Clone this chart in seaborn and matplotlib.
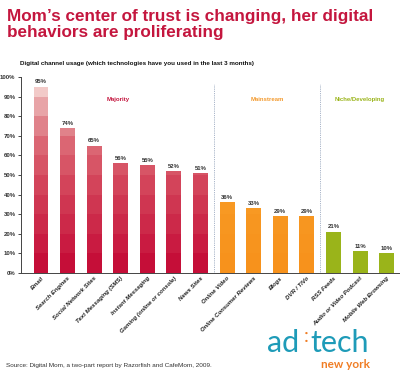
import matplotlib
matplotlib.use("Agg")
import matplotlib.pyplot as plt
import seaborn as sns

categories = ["Email", "Search Engines", "Social Network Sites", "Text Messaging (SMS)",
              "Instant Messaging", "Gaming (online or console)", "News Sites",
              "Online Video", "Online Consumer Reviews", "Blogs", "DVR / TiVo",
              "RSS Feeds", "Audio or Video Podcast", "Mobile Web Browsing"]
values = [95, 74, 65, 56, 55, 52, 51, 36, 33, 29, 29, 21, 11, 10]
groups = ["Majority"] * 7 + ["Mainstream"] * 4 + ["Niche/Developing"] * 3
group_labels = ["Majority", "Mainstream", "Niche/Developing"]
yticks = [0, 10, 20, 30, 40, 50, 60, 70, 80, 90, 100]

band_colors = {
    "Majority": ["#C50E38", "#C91B41", "#CC2949", "#CF3651", "#D3445A", "#D75566",
                 "#DB6673", "#E0828A", "#E8A4A7", "#F2CAC8"],
    "Mainstream": ["#F7921C", "#F7941E", "#F79620", "#F89923", "#F89B27", "#F89E2C",
                   "#F9A233", "#F9A63A", "#F9AA42", "#FAAE4A"],
    "Niche/Developing": ["#9AB41A"] * 10,
}
label_colors = {"Majority": "#C4163E", "Mainstream": "#F39A2E", "Niche/Developing": "#9AB41A"}

sns.set_style("white")
plt.rcParams["font.family"] = ["Liberation Sans", "DejaVu Sans"]

fig = plt.figure(figsize=(4.0, 3.74), dpi=100)
ax = fig.add_axes([21 / 400, 101 / 374, 379 / 400, 196 / 374])

for k in range(9, -1, -1):
    heights = [min(v, (k + 1) * 10) for v in values]
    pal = {c: band_colors[g][k] for c, g in zip(categories, groups)}
    sns.barplot(x=categories, y=heights, hue=categories, palette=pal, legend=False,
                order=categories, width=0.56, saturation=1, linewidth=0, ax=ax)

for i, v in enumerate(values):
    ax.text(i, v + 1.2, f"{v}%", ha="center", va="bottom", fontsize=4.3,
            fontweight="bold", color="#333333")

ax.set_xlim(-0.75, 13.5)
ax.set_ylim(0, 100)
ax.set_yticks(yticks)
ax.set_yticklabels([f"{t}%" for t in yticks], fontsize=4.3, fontweight="bold", color="#333333")
ax.tick_params(axis="y", length=2.5, width=0.6, pad=1.5, left=True)
ax.tick_params(axis="x", length=0, pad=2)
ax.set_xticks(range(len(categories)))
ax.set_xticklabels(categories, rotation=45, ha="right", rotation_mode="anchor",
                   fontsize=4.3, fontweight="bold", fontstyle="italic", color="#222222")
for s in ["top", "right"]:
    ax.spines[s].set_visible(False)
ax.spines["left"].set_linewidth(0.7)
ax.spines["bottom"].set_linewidth(0.7)
ax.spines["left"].set_color("#444444")
ax.spines["bottom"].set_color("#444444")
ax.set_xlabel("")
ax.set_ylabel("")

for xd in [6.5, 10.5]:
    ax.plot([xd, xd], [0, 96.5], linestyle=(0, (1, 1.2)), color="#8A9BB5", linewidth=0.6)

group_x = [2.9, 8.5, 12.0]
for gx, g in zip(group_x, group_labels):
    ax.text(gx, 88.5, g, ha="center", va="center", fontsize=4.3, fontweight="bold",
            color=label_colors[g])

fig.text(7 / 400, 1 - 9 / 374,
         "Mom\u2019s center of trust is changing, her digital\nbehaviors are proliferating",
         ha="left", va="top", fontsize=12.3, fontweight="bold", color="#C4163E",
         linespacing=1.12)
fig.text(20 / 400, 1 - 64 / 374,
         "Digital channel usage (which technologies have you used in the last 3 months)",
         ha="left", va="center", fontsize=4.5, fontweight="bold", color="#111111")
fig.text(6 / 400, 1 - 366 / 374,
         "Source: Digital Mom, a two-part report by Razorfish and CafeMom, 2009.",
         ha="left", va="center", fontsize=4.6, color="#333333")

fig.text(267 / 400, 1 - 343 / 374, "ad", ha="left", va="center", fontsize=22,
         color="#1E9BB8", family=["Lato", "DejaVu Sans"])
fig.text(304 / 400, 1 - 336 / 374, ":", ha="left", va="center", fontsize=14,
         color="#F07D24", family=["Lato", "DejaVu Sans"])
fig.text(310 / 400, 1 - 343 / 374, "tech", ha="left", va="center", fontsize=22,
         color="#1E9BB8", family=["Lato", "DejaVu Sans"])
fig.text(370 / 400, 1 - 364 / 374, "new york", ha="right", va="center", fontsize=8.5,
         fontweight="bold", color="#F07D24", family=["Lato", "DejaVu Sans"])

fig.savefig("out.png", dpi=100)
